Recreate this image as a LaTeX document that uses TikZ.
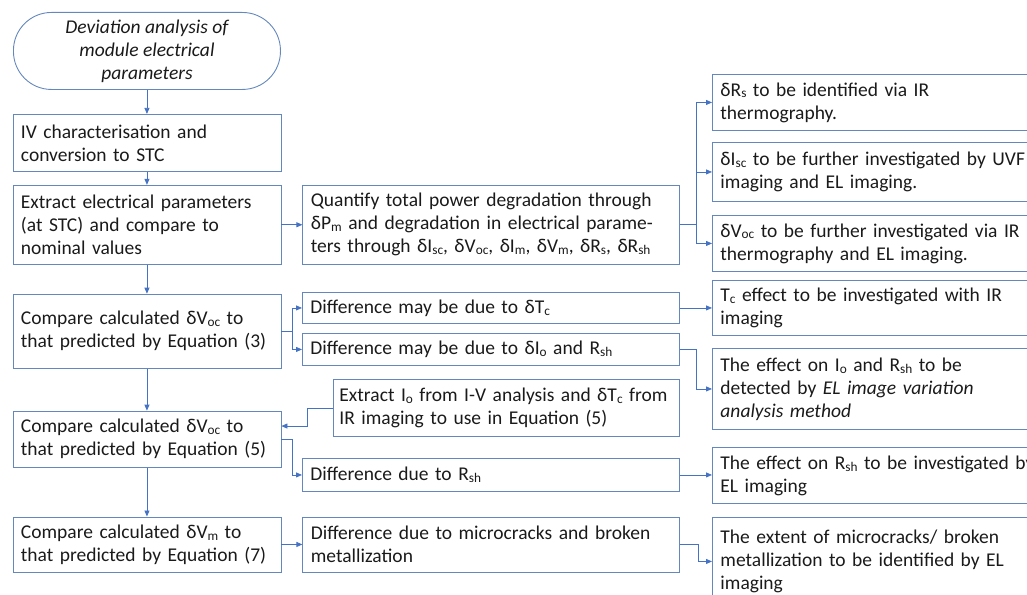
\documentclass[tikz,border=0pt]{standalone}
\usepackage{fontspec}
\setmainfont{Carlito}
\usepackage{tikz}
\usetikzlibrary{arrows.meta,positioning}
\definecolor{edgeblue}{HTML}{6487BE}
\definecolor{linkblue}{HTML}{4472C4}
\definecolor{inkgray}{HTML}{1A1A1A}
\newcommand{\lowtxt}[1]{\raisebox{-0.1em}{\fontsize{13.3}{13.3}\selectfont #1}}

\begin{document}
\begin{tikzpicture}[
  x=1pt, y=-1pt,
  font=\fontsize{19.5}{23}\selectfont, text=inkgray,
  stepbox/.style={rectangle, draw=edgeblue, line width=0.9pt, align=left,
    inner xsep=8pt, inner ysep=0pt, anchor=north west},
  leftbox/.style={stepbox, text width=252pt},
  midbox/.style={stepbox, text width=361pt},
  rightbox/.style={stepbox, text width=340pt},
  startbox/.style={rectangle, draw=edgeblue, line width=0.9pt, rounded corners=38pt,
    minimum width=267pt, minimum height=77pt, align=center,
    font=\fontsize{19.5}{23}\selectfont\itshape, anchor=north west},
  link/.style={->, draw=linkblue, line width=0.8pt},
  >={Triangle[length=6pt, width=5pt]}
]
  \useasboundingbox (0,0) rectangle (1027,594);

  % main column
  \node[startbox] (start) at (13,12) {Deviation analysis of\\module electrical\\parameters};
  \node[leftbox, minimum height=57pt, below=24pt of start] (ivchar)
    {IV characterisation and\\conversion to STC};
  \node[leftbox, minimum height=79pt, below=13pt of ivchar] (extract)
    {Extract electrical parameters\\(at STC) and compare to\\nominal values};
  \node[leftbox, minimum height=74pt, below=29pt of extract] (cmpvoc)
    {Compare calculated δV\lowtxt{oc} to\\that predicted by Equation (3)};
  \node[leftbox, minimum height=56pt, below=42pt of cmpvoc] (cmpvocfive)
    {Compare calculated δV\lowtxt{oc} to\\that predicted by Equation (5)};
  \node[leftbox, minimum height=55pt, below=49pt of cmpvocfive] (cmpvm)
    {Compare calculated δV\lowtxt{m} to\\that predicted by Equation (7)};

  % middle column
  \node[midbox, minimum height=79pt, right=21pt of extract] (quantify)
    {Quantify total power degradation through\\δP\lowtxt{m} and degradation in electrical parame-\\ters through δI\lowtxt{sc}, δV\lowtxt{oc}, δI\lowtxt{m}, δV\lowtxt{m}, δR\lowtxt{s}, δR\lowtxt{sh}};
  \node[midbox, minimum height=31pt] (difftc) at (302,292)
    {Difference may be due to δT\lowtxt{c}};
  \node[midbox, minimum height=32pt] (diffio) at (302,333)
    {Difference may be due to δI\lowtxt{o} and R\lowtxt{sh}};
  \node[stepbox, inner xsep=6pt, text width=334pt, minimum height=57pt] (getio) at (333,379)
    {Extract I\lowtxt{o} from I-V analysis and δT\lowtxt{c} from\\IR imaging to use in Equation (5)};
  \node[midbox, minimum height=33pt] (diffrsh) at (302,458)
    {Difference due to R\lowtxt{sh}};
  \node[midbox, minimum height=55pt, right=21pt of cmpvm] (diffmc)
    {Difference due to microcracks and broken\\metallization};

  % imaging column
  \node[rightbox, minimum height=56pt] (idrs) at (712,74)
    {δR\lowtxt{s} to be identified via IR\\thermography.};
  \node[rightbox, minimum height=59pt] (idisc) at (712,142)
    {δI\lowtxt{sc} to be further investigated by UVF\\imaging and EL imaging.};
  \node[rightbox, minimum height=56pt] (idvoc) at (712,215)
    {δV\lowtxt{oc} to be further investigated via IR\\thermography and EL imaging.};
  \node[rightbox, minimum height=55pt] (idtc) at (712,280)
    {T\lowtxt{c} effect to be investigated with IR\\imaging};
  \node[rightbox, minimum height=81pt] (idio) at (712,348)
    {The effect on I\lowtxt{o} and R\lowtxt{sh} to be\\detected by \textit{EL image variation}\\\textit{analysis method}};
  \node[rightbox, minimum height=56pt] (idrsh) at (712,447)
    {The effect on R\lowtxt{sh} to be investigated by\\EL imaging};
  \node[rightbox, minimum height=88pt] (idmc) at (712,517)
    {The extent of microcracks/ broken\\metallization to be identified by EL\\imaging};

  \coordinate (fivein) at ([yshift=13pt]cmpvocfive.east);

  \draw[link] (start) -- (ivchar);
  \draw[link] (ivchar) -- (extract);
  \draw[link] (extract) -- (cmpvoc);
  \draw[link] (cmpvoc) -- (cmpvocfive);
  \draw[link] (cmpvocfive) -- (cmpvm);

  \draw[link] (extract) -- (quantify);
  \draw[link] (quantify.east) -- ++(16,0) |- (idrs.west);
  \draw[link] (quantify.east) -- ++(16,0) |- (idisc.west);
  \draw[link] (quantify.east) -- ++(16,0) |- (idvoc.west);

  \draw[link] (cmpvoc.east) -- ++(11,0) |- (difftc.west);
  \draw[link] (cmpvoc.east) -- ++(11,0) |- (diffio.west);
  \draw[link] (difftc) -- (idtc);
  \draw[link] (diffio.east) -- ++(16,0) |- (idio.west);

  \draw[link] (getio.west) -- ++(-26,0) |- (fivein);
  \draw[link] (cmpvocfive.east) -- ++(11,0) |- (diffrsh.west);
  \draw[link] (diffrsh.east) -- (diffrsh.east -| idrsh.west);

  \draw[link] (cmpvm) -- (diffmc);
  \draw[link] (diffmc.east) -- ++(18,0) |- (idmc.west);
\end{tikzpicture}
\end{document}
